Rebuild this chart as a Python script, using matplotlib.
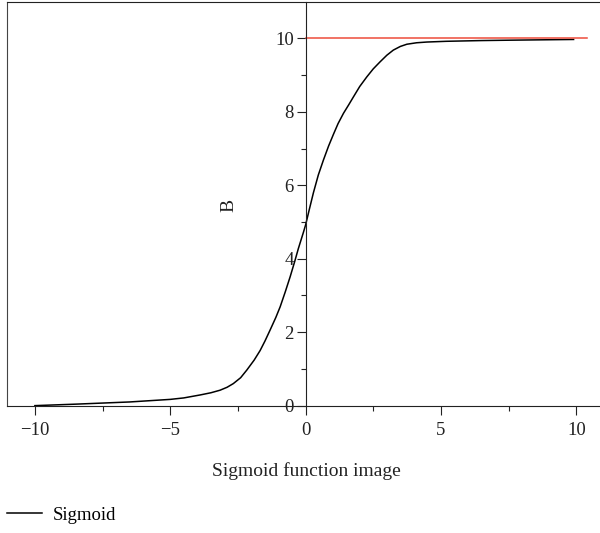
import matplotlib
matplotlib.use("Agg")
import matplotlib.pyplot as plt
from matplotlib.ticker import MultipleLocator

plt.rcParams['font.family'] = ['Liberation Serif', 'DejaVu Serif']

# Data
sig_x = [-10, -8.5, -7.5, -6.5, -5, -4.5, -3.9, -3.5, -3.16, -2.9, -2.67, -2.4, -2.17,
         -1.9, -1.68, -1.5, -1.31, -1.1, -0.94, -0.75, -0.57, -0.4, -0.27, -0.08,
         0, 0.15, 0.29, 0.47, 0.66, 0.85, 1.03, 1.2, 1.4, 1.6, 1.77, 2.0, 2.26,
         2.5, 2.75, 3.0, 3.24, 3.5, 3.74, 4.1, 4.48, 5.2, 6.5, 7.5, 8.7, 9.9]
sig_y = [0, 0.04, 0.07, 0.1, 0.17, 0.21, 0.29, 0.35, 0.42, 0.5, 0.6, 0.76, 0.97,
         1.24, 1.5, 1.76, 2.06, 2.4, 2.69, 3.1, 3.51, 3.93, 4.27, 4.72,
         4.92, 5.38, 5.8, 6.28, 6.69, 7.07, 7.39, 7.68, 7.96, 8.2, 8.41, 8.69, 8.95,
         9.17, 9.36, 9.54, 9.68, 9.78, 9.84, 9.88, 9.9, 9.92, 9.94, 9.95, 9.96, 9.97]
ref_x = [0, 10.4]
ref_y = [10, 10]

x_ticks = [-10, -5, 0, 5, 10]
y_ticks = [0, 2, 4, 6, 8, 10]

W, H = 600, 533
fig = plt.figure(figsize=(W / 100, H / 100), dpi=100)
rect = [7 / W, (H - 406) / H, 598 / W, 404 / H]

# frame axes (left and top border)
frame = fig.add_axes(rect)
frame.set_xticks([]); frame.set_yticks([])
frame.spines['right'].set_visible(False)
frame.spines['bottom'].set_visible(False)
frame.spines['left'].set_color('#444444')
frame.spines['top'].set_color('#222222')
frame.patch.set_alpha(0)

ax = fig.add_axes(rect)
ax.patch.set_alpha(0)
ax.set_xlim(-11.03, 11.06)
ax.set_ylim(-0.01, 10.99)
ax.spines['top'].set_visible(False)
ax.spines['right'].set_visible(False)
ax.spines['left'].set_position(('data', 0))
ax.spines['left'].set_color('#222222')
ax.spines['bottom'].set_color('#222222')

ax.plot(sig_x, sig_y, color='black', lw=1.1, label='Sigmoid')
ax.plot(ref_x, ref_y, color='#ee4b3b', lw=1.1)

ax.set_xticks(x_ticks)
ax.set_yticks(y_ticks)
ax.xaxis.set_minor_locator(MultipleLocator(2.5))
ax.yaxis.set_minor_locator(MultipleLocator(1))
ax.tick_params(axis='both', which='major', direction='out', length=6.5, width=0.8,
               labelsize=13.5, colors='#222222')
ax.tick_params(axis='both', which='minor', direction='out', length=3.5, width=0.8,
               colors='#222222')
ax.tick_params(axis='y', pad=2)
ax.tick_params(axis='x', pad=5)

ax.set_xlabel('Sigmoid function image', fontsize=14, labelpad=17, color='#222222')
ax.set_ylabel('B', fontsize=14, color='#222222')
ax.yaxis.set_label_coords((237 - 7) / 598, (406 - 205) / 404)

leg = fig.legend(loc='center left', bbox_to_anchor=(7 / W, (H - 515) / H),
                 frameon=False, fontsize=13.5, handlelength=1.85, handletextpad=0.6,
                 borderaxespad=0, borderpad=0)

fig.savefig('out.png', dpi=100)
